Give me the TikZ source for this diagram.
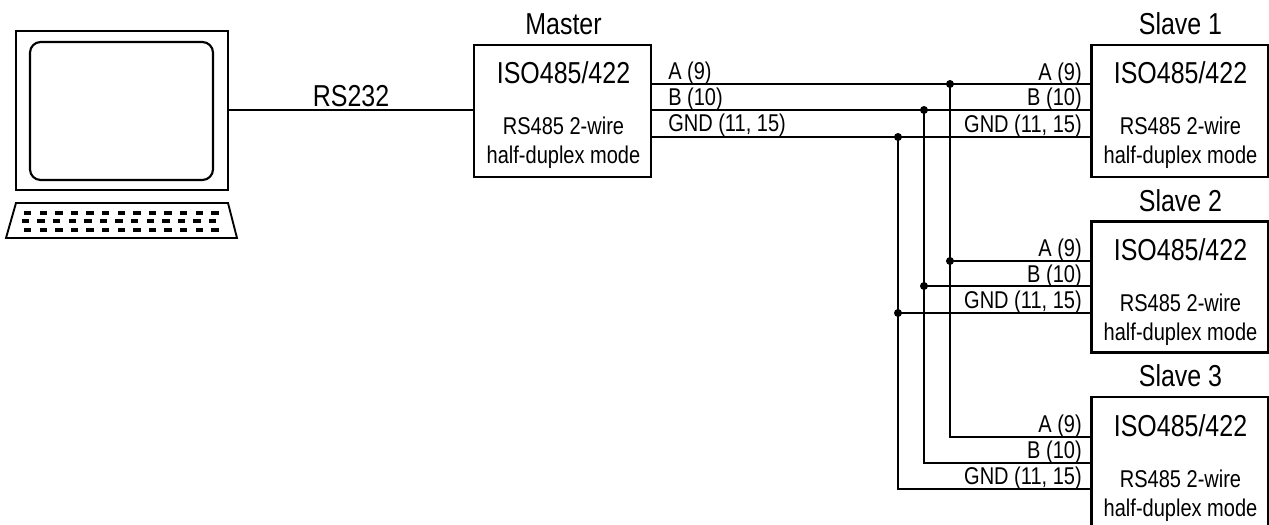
\documentclass[tikz,border=0pt]{standalone}
\usepackage{fontspec}
\setmainfont{Liberation Sans}
\newfontfamily\fbig[FakeStretch=0.825]{Liberation Sans}
\tikzset{
  wire/.style={line width=1.9pt,black},
  gndtop/.style={line width=2.2pt,black},
  box/.style={draw,line width=1.7pt,minimum width=132.75pt,minimum height=99pt,inner sep=0pt,outer sep=0pt},
  title/.style={font=\fbig\fontsize{22.7}{22.7}\selectfont,inner sep=0pt,text=black,anchor=base},
  chip/.style={font=\fbig\fontsize{22.7}{22.7}\selectfont,inner sep=0pt,anchor=base},
  note/.style={font=\fbig\fontsize{18.2}{18.2}\selectfont,inner sep=0pt,anchor=base},
  pinl/.style={font=\fbig\fontsize{18.2}{18.2}\selectfont,inner sep=0pt,anchor=base west},
  pinr/.style={font=\fbig\fontsize{18.2}{18.2}\selectfont,inner sep=0pt,anchor=base east},
  dot/.style={circle,fill=black,draw=none,minimum size=6pt,inner sep=0pt},
  key/.style={fill=black,draw=none},
}
\begin{document}
\begin{tikzpicture}[x=0.75pt,y=-0.75pt]
\useasboundingbox (0,0) rectangle (1269,524);
% computer
\node[draw,line width=1.6pt,minimum width=159pt,minimum height=119.25pt,inner sep=0pt,outer sep=0pt] (monitor) at (122,110.5) {};
\node[draw,line width=1.6pt,rounded corners=8pt,minimum width=137.25pt,minimum height=103.5pt,inner sep=0pt] (screen) at (121.5,111) {};
\draw[line width=1.4pt,line join=miter] (16,203) -- (228,203) -- (237,238) -- (6,238) -- cycle;
\foreach \i in {0,...,12} {
  \fill[key] (24+15.6*\i,210.5) rectangle ++(7.4,4);
  \fill[key] (21.7+15.6*\i,218.7) rectangle ++(7.4,4.4);
  \fill[key] (24+15.6*\i,227.5) rectangle ++(7.4,4);
}
% boxes
\node[box] (master) at (562.5,111) {};
\node[box] (slaveA) at (1180,111) {};
\node[box,minimum height=98.25pt] (slaveB) at (1180,287) {};
\node[box] (slaveC) at (1180,463) {};
% titles
\node[title] (tm) at (563.5,35) {Master};
\node[title] (t1) at (1180.5,35) {Slave 1};
\node[title] (t2) at (1180.5,211.5) {Slave 2};
\node[title] (t3) at (1180.5,386.5) {Slave 3};
% chip text
\foreach \n/\cx/\yy in {c0/563.5/0,c1/1180.5/0,c2/1180.5/176.5,c3/1180.5/352.5} {
  \node[chip] (\n) at (\cx,83.5+\yy) {ISO485/422};
  \node[note] (\n a) at (\cx,134.5+\yy) {RS485 2-wire};
  \node[note] (\n b) at (\cx,163.5+\yy) {half-duplex mode};
}
% RS232
\draw[line width=1.5pt] (monitor.east) -- (monitor.east -| master.west);
\node[title] (rs) at (351,106.5) {RS232};
% wire coordinates
\coordinate (mA) at (651,84); \coordinate (mB) at (651,110); \coordinate (mG) at (651,137);
\coordinate (aA) at (1092,84); \coordinate (aB) at (1092,110); \coordinate (aG) at (1092,137);
\coordinate (bA) at (1092,261); \coordinate (bB) at (1092,286); \coordinate (bG) at (1092,313);
\coordinate (cA) at (1092,437); \coordinate (cB) at (1092,463); \coordinate (cG) at (1092,489);
\coordinate (j1A) at (950,84); \coordinate (j1B) at (924,110); \coordinate (j1G) at (898,137);
\coordinate (j2A) at (950,261); \coordinate (j2B) at (924,286); \coordinate (j2G) at (898,313);
\coordinate (j3A) at (950,437); \coordinate (j3B) at (924,463); \coordinate (j3G) at (898,489);
% buses
\draw[wire] (mA) -- (aA);
\draw[wire] (mB) -- (aB);
\draw[gndtop] (mG) -- (aG);
\draw[wire] (j2A) -- (bA);
\draw[wire] (j2B) -- (bB);
\draw[line width=1.4pt] (j2G) -- (bG);
\draw[wire,line join=miter] (j1A) -- (j3A) -- (cA);
\draw[wire,line join=miter] (j1B) -- (j3B) -- (cB);
\draw[gndtop,line join=miter] (j1G) -- (j3G) -- (cG);
% junction dots
\foreach \j in {j1A,j1B,j1G,j2A,j2B,j2G} \node[dot] (d\j) at (\j) {};
% pin labels
\node[pinl] (lA) at (668,79.5) {A (9)};
\node[pinl] (lB) at (668,106) {B (10)};
\node[pinl] (lG) at (668,132) {GND (11, 15)};
\foreach \n/\yy in {p/0,q/176,r/352} {
  \node[pinr] (\n A) at (1082,80.5+\yy) {A (9)};
  \node[pinr] (\n B) at (1082,106+\yy) {B (10)};
  \node[pinr] (\n G) at (1082,132.5+\yy) {GND (11, 15)};
}
\end{tikzpicture}
\end{document}
